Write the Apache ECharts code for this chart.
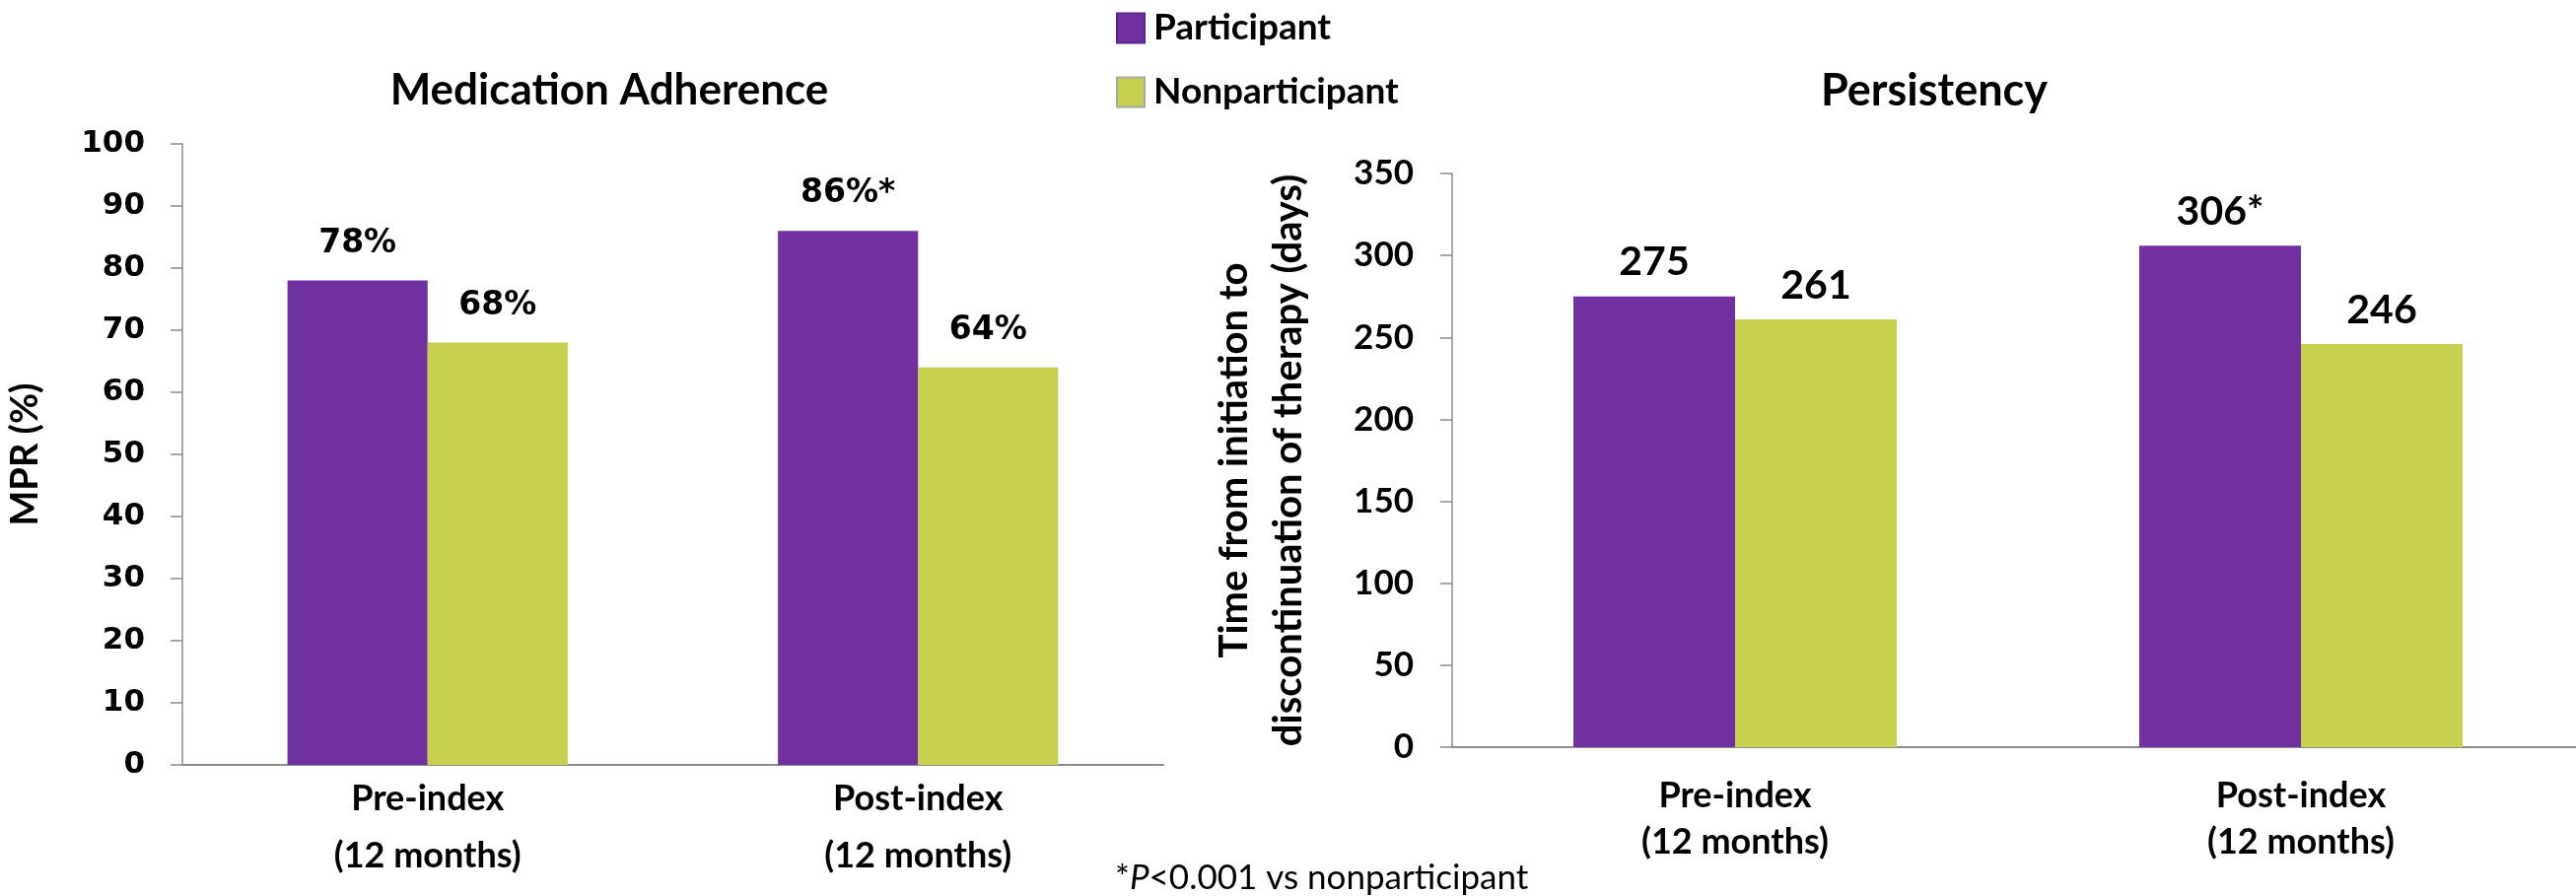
<!DOCTYPE html>
<html>
<head>
<meta charset="utf-8">
<title>Medication Adherence and Persistency</title>
<script src="https://cdn.jsdelivr.net/npm/echarts@6/dist/echarts.min.js"></script>
<style>
  html, body { margin: 0; padding: 0; background: #ffffff; }
  #chart { width: 2613px; height: 909px; }
</style>
</head>
<body>
<div id="chart"></div>
<script>
// Study periods on the x axis of both panels
const categories = ['Pre-index\n(12 months)', 'Post-index\n(12 months)'];

// Medication possession ratio (%)
const mprParticipant = [78, 86];
const mprNonparticipant = [68, 64];

// Time from initiation to discontinuation of therapy (days)
const daysParticipant = [275, 306];
const daysNonparticipant = [261, 246];

// Periods where participants differ from nonparticipants at P<0.001
const significant = [false, true];

const seriesNames = ['Participant', 'Nonparticipant'];
const PURPLE = '#7030A0';
const GREEN = '#C8D04F';
const AXIS_GREY = '#8C8C8C';
const CAL = 'Lato, "Open Sans", sans-serif';
const VER = '"DejaVu Sans", Verdana, sans-serif';

const chart = echarts.init(document.getElementById('chart'), null, { renderer: 'canvas' });

function barLabel(font, size, distance, suffix, starred) {
  return {
    show: true,
    position: 'top',
    distance: distance,
    color: '#000',
    fontFamily: font,
    fontWeight: 'bold',
    fontSize: size,
    formatter: p => p.value + suffix + (starred && significant[p.dataIndex] ? '*' : '')
  };
}

const xAxisCommon = {
  type: 'category',
  data: categories,
  axisTick: { show: false },
  axisLine: { show: true, lineStyle: { color: AXIS_GREY, width: 2 } }
};

const yAxisCommon = {
  type: 'value',
  min: 0,
  splitLine: { show: false },
  axisLine: { show: true, lineStyle: { color: AXIS_GREY, width: 1.5 } },
  axisTick: { show: true, inside: false, length: 12, lineStyle: { color: AXIS_GREY, width: 1.5 } },
  nameLocation: 'middle',
  nameRotate: 90
};

const option = {
  backgroundColor: '#ffffff',
  animation: false,
  title: [
    {
      text: 'Medication Adherence',
      left: 613, top: 64, textAlign: 'center',
      textStyle: { fontFamily: CAL, fontWeight: 'bold', fontSize: 44, lineHeight: 46, color: '#000' }
    },
    {
      text: 'Persistency',
      left: 1957, top: 64, textAlign: 'center',
      textStyle: { fontFamily: CAL, fontWeight: 'bold', fontSize: 45, lineHeight: 46, color: '#000' }
    },
    {
      text: '*{i|P}<0.001 vs nonparticipant',
      left: 1126, top: 867,
      textStyle: {
        fontFamily: CAL, fontWeight: 'normal', fontSize: 35, lineHeight: 38, color: '#000',
        rich: { i: { fontFamily: CAL, fontStyle: 'italic', fontSize: 35, lineHeight: 38, color: '#000' } }
      }
    }
  ],
  legend: {
    orient: 'vertical',
    left: 1132, top: 10,
    padding: 0,
    itemWidth: 28, itemHeight: 30, itemGap: 28,
    icon: 'rect',
    textStyle: { fontFamily: CAL, fontWeight: 'bold', fontSize: 37, color: '#000', padding: [0, 0, 0, 4] },
    data: [
      { name: seriesNames[0], itemStyle: { color: PURPLE, borderColor: '#5A2683', borderWidth: 2 } },
      { name: seriesNames[1], itemStyle: { color: GREEN, borderColor: '#A6A6A6', borderWidth: 2 } }
    ]
  },
  grid: [
    { left: 185, top: 146, width: 995, height: 630, containLabel: false, outerBoundsMode: 'none' },
    { left: 1473, top: 176, width: 1148, height: 582, containLabel: false, outerBoundsMode: 'none' }
  ],
  xAxis: [
    Object.assign({}, xAxisCommon, {
      gridIndex: 0,
      axisLabel: { color: '#000', fontFamily: CAL, fontWeight: 'bold', fontSize: 36, lineHeight: 58, margin: 5 }
    }),
    Object.assign({}, xAxisCommon, {
      gridIndex: 1,
      axisLabel: { color: '#000', fontFamily: CAL, fontWeight: 'bold', fontSize: 36, lineHeight: 47, margin: 26 }
    })
  ],
  yAxis: [
    Object.assign({}, yAxisCommon, {
      gridIndex: 0, max: 100, interval: 10,
      name: 'MPR (%)', nameGap: 140,
      nameTextStyle: { color: '#000', fontFamily: CAL, fontWeight: 'bold', fontSize: 38 },
      axisLabel: { color: '#000', fontFamily: VER, fontWeight: 'bold', fontSize: 31, margin: 38 }
    }),
    Object.assign({}, yAxisCommon, {
      gridIndex: 1, max: 350, interval: 50,
      name: 'Time from initiation to\ndiscontinuation of therapy (days)', nameGap: 138,
      nameTextStyle: { color: '#000', fontFamily: CAL, fontWeight: 'bold', fontSize: 40, lineHeight: 55, align: 'center' },
      axisLabel: { color: '#000', fontFamily: CAL, fontWeight: 'bold', fontSize: 35, margin: 39 }
    })
  ],
  series: [
    {
      name: seriesNames[0], type: 'bar', xAxisIndex: 0, yAxisIndex: 0,
      data: mprParticipant, barWidth: '28.57%', barGap: '0%',
      itemStyle: { color: PURPLE },
      label: barLabel(VER, 33, 21, '%', true)
    },
    {
      name: seriesNames[1], type: 'bar', xAxisIndex: 0, yAxisIndex: 0,
      data: mprNonparticipant, barWidth: '28.57%', barGap: '0%',
      itemStyle: { color: GREEN },
      label: barLabel(VER, 33, 21, '%', false)
    },
    {
      name: seriesNames[0], type: 'bar', xAxisIndex: 1, yAxisIndex: 1,
      data: daysParticipant, barWidth: '28.57%', barGap: '0%',
      itemStyle: { color: PURPLE },
      label: barLabel(CAL, 41, 14, '', true)
    },
    {
      name: seriesNames[1], type: 'bar', xAxisIndex: 1, yAxisIndex: 1,
      data: daysNonparticipant, barWidth: '28.57%', barGap: '0%',
      itemStyle: { color: GREEN },
      label: barLabel(CAL, 41, 14, '', false)
    }
  ]
};

chart.setOption(option);
</script>
</body>
</html>
